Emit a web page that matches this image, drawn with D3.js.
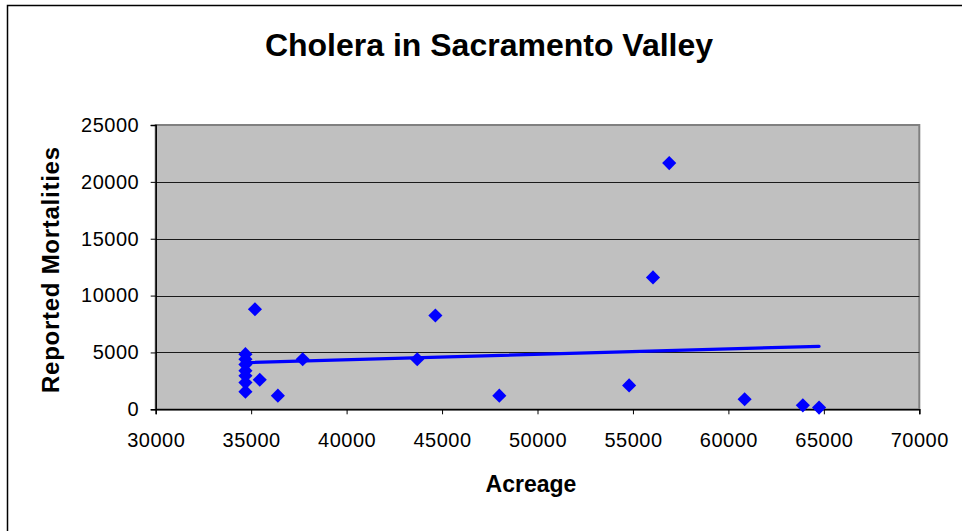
<!DOCTYPE html>
<html>
<head>
<meta charset="utf-8">
<script src="https://cdn.jsdelivr.net/npm/d3@7"></script>
<style>
  html, body { margin: 0; padding: 0; background: #fff; }
  svg { display: block; }
  text { font-family: "Liberation Sans", Arial, sans-serif; fill: #000; }
</style>
</head>
<body>
<svg id="chart" width="962" height="531"></svg>
<script>
// Acreage vs. reported cholera mortalities, Sacramento Valley
const acreage = [34700, 34700, 34700, 34700, 34700, 34700, 34700,
                 35200, 35450, 36400, 37700, 43700, 44650, 48000,
                 54800, 56050, 56900, 60850, 63900, 64750];
const mortalities = [4850, 4400, 3950, 3400, 2950, 2350, 1550,
                     8800, 2600, 1200, 4400, 4400, 8250, 1200,
                     2100, 11600, 21650, 880, 350, 150];
const xTicks = [30000, 35000, 40000, 45000, 50000, 55000, 60000, 65000, 70000];
const yTicks = [0, 5000, 10000, 15000, 20000, 25000];
const chartTitle = "Cholera in Sacramento Valley";
const xTitle = "Acreage";
const yTitle = "Reported Mortalities";

const svg = d3.select("#chart");
const W = 962, H = 531;
const plot = { left: 155.7, right: 919.3, top: 125, bottom: 409.3 };

const x = d3.scaleLinear().domain([30000, 70000]).range([plot.left, plot.right]);
const y = d3.scaleLinear().domain([0, 25000]).range([plot.bottom, plot.top]);

// chart frame (left and top edges visible)
svg.append("rect")
  .attr("x", 7.5).attr("y", 5.5)
  .attr("width", W + 20).attr("height", H + 20)
  .attr("fill", "#fff").attr("stroke", "#000").attr("stroke-width", 1.5);

// plot area
svg.append("rect")
  .attr("x", plot.left).attr("y", plot.top)
  .attr("width", plot.right - plot.left).attr("height", plot.bottom - plot.top)
  .attr("fill", "#c0c0c0").attr("stroke", "#808080").attr("stroke-width", 2);

// horizontal gridlines
svg.append("g").selectAll("line")
  .data(yTicks.filter(d => d > 0 && d < 25000))
  .join("line")
  .attr("x1", plot.left).attr("x2", plot.right)
  .attr("y1", d => Math.round(y(d)) + 0.5).attr("y2", d => Math.round(y(d)) + 0.5)
  .attr("stroke", "#1a1a1a").attr("stroke-width", 1);

// axes
const xAxis = d3.axisBottom(x).tickValues(xTicks).tickSize(5).tickPadding(19)
  .tickFormat(d3.format("d"));
const yAxis = d3.axisLeft(y).tickValues(yTicks).tickSize(5).tickPadding(12)
  .tickFormat(d3.format("d"));

const gx = svg.append("g").attr("transform", `translate(0,${plot.bottom})`).call(xAxis);
const gy = svg.append("g").attr("transform", `translate(${plot.left},0)`).call(yAxis);

[gx, gy].forEach(g => {
  g.select(".domain").attr("stroke", "#000").attr("stroke-width", 1.5);
  g.selectAll(".tick line").attr("stroke", "#000").attr("stroke-width", 1);
  g.selectAll(".tick text")
    .attr("font-family", "Liberation Sans, Arial, sans-serif")
    .attr("font-size", 20)
    .attr("letter-spacing", "0.5px")
    .attr("fill", "#000");
});
gy.selectAll(".tick text").attr("dx", "0.5px");

// least-squares trend line over the data range
const n = acreage.length;
const mx = d3.mean(acreage), my = d3.mean(mortalities);
let sxy = 0, sxx = 0;
for (let i = 0; i < n; i++) {
  sxy += (acreage[i] - mx) * (mortalities[i] - my);
  sxx += (acreage[i] - mx) ** 2;
}
const slope = sxy / sxx, intercept = my - slope * mx;
const [xmin, xmax] = d3.extent(acreage);
svg.append("path")
  .datum([xmin, xmax])
  .attr("d", d3.line().x(d => x(d)).y(d => y(intercept + slope * d)))
  .attr("stroke", "#0000ff").attr("stroke-width", 3.2)
  .attr("stroke-linecap", "round").attr("fill", "none");

// diamond markers
const diamond = d3.symbol().type(d3.symbolSquare).size(100);
svg.append("g").selectAll("path")
  .data(acreage.map((a, i) => [a, mortalities[i]]))
  .join("path")
  .attr("d", diamond)
  .attr("transform", d => `translate(${x(d[0])},${y(d[1])}) rotate(45)`)
  .attr("fill", "#0000ff");

// titles
svg.append("text")
  .attr("x", 489).attr("y", 56)
  .attr("text-anchor", "middle")
  .attr("font-size", 32).attr("font-weight", "bold")
  .text(chartTitle);

svg.append("text")
  .attr("x", 531).attr("y", 492)
  .attr("text-anchor", "middle")
  .attr("font-size", 23).attr("font-weight", "bold")
  .text(xTitle);

svg.append("text")
  .attr("transform", "translate(59,270) rotate(-90)")
  .attr("text-anchor", "middle")
  .attr("font-size", 24).attr("font-weight", "bold")
  .attr("textLength", 246).attr("lengthAdjust", "spacing")
  .text(yTitle);
</script>
</body>
</html>
